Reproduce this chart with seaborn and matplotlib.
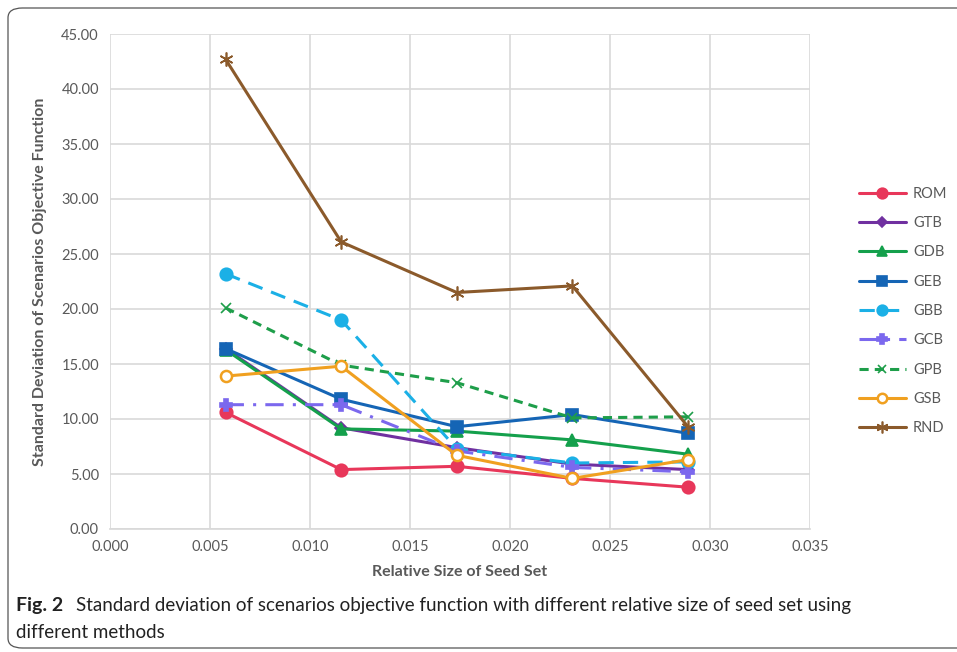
import matplotlib
matplotlib.use("Agg")
import matplotlib.pyplot as plt
import seaborn as sns
import pandas as pd
from matplotlib.patches import FancyBboxPatch
from matplotlib.ticker import MultipleLocator, FormatStrFormatter

# relative size of seed set (x values)
seed_size = [0.00578, 0.01156, 0.01734, 0.02312, 0.0289]

# standard deviation of the scenarios objective function per method
rom = [10.6, 5.4, 5.7, 4.6, 3.8]
gtb = [16.4, 9.2, 7.4, 5.9, 5.4]
gdb = [16.3, 9.1, 8.9, 8.1, 6.8]
geb = [16.4, 11.8, 9.3, 10.4, 8.7]
gbb = [23.2, 19.0, 7.3, 6.0, 6.1]
gcb = [11.3, 11.3, 7.1, 5.6, 5.2]
gpb = [20.1, 14.9, 13.3, 10.1, 10.2]
gsb = [13.9, 14.8, 6.7, 4.6, 6.3]
rnd = [42.7, 26.1, 21.5, 22.1, 9.3]

methods = ["ROM", "GTB", "GDB", "GEB", "GBB", "GCB", "GPB", "GSB", "RND"]
values = [rom, gtb, gdb, geb, gbb, gcb, gpb, gsb, rnd]

rows = []
for name, vals in zip(methods, values):
    for x, v in zip(seed_size, vals):
        rows.append({"method": name, "size": x, "sd": v})
df = pd.DataFrame(rows)

# line style for each method: colour, marker, linestyle, marker size, filled
styles = {
    "ROM": ("#E8375A", "o", "-", 9, True),
    "GTB": ("#7030A0", "D", "-", 6, True),
    "GDB": ("#14A04C", "^", "-", 9, True),
    "GEB": ("#1565B5", "s", "-", 8, True),
    "GBB": ("#1BB0E6", "o", (0, (5, 3)), 9, True),
    "GCB": ("#7B68EE", "P", (0, (6, 3, 1, 3)), 9, True),
    "GPB": ("#1E9E4A", "x", (0, (3, 2)), 7, True),
    "GSB": ("#F0A020", "o", "-", 8, False),
    "RND": ("#8B5A2B", (6, 2, 0), "-", 10, True),
}

sns.set_theme(style="white")
plt.rcParams["font.family"] = ["Lato", "DejaVu Sans"]

fig = plt.figure(figsize=(9.57, 6.52), dpi=100)
ax = fig.add_axes([110 / 957, 1 - 529 / 652, 700 / 957, 495 / 652])

for name in methods:
    color, marker, ls, ms, filled = styles[name]
    sub = df[df["method"] == name]
    sns.lineplot(
        x="size", y="sd", data=sub, ax=ax,
        color=color, marker=marker, linestyle=ls, linewidth=2.2,
        markersize=ms, markeredgewidth=1.8 if not filled else 1.2,
        markerfacecolor=color if filled else "white",
        markeredgecolor=color, label=name,
    )

ax.set_xlim(0, 0.035)
ax.set_ylim(0, 45)
ax.xaxis.set_major_locator(MultipleLocator(0.005))
ax.yaxis.set_major_locator(MultipleLocator(5))
ax.xaxis.set_major_formatter(FormatStrFormatter("%.3f"))
ax.yaxis.set_major_formatter(FormatStrFormatter("%.2f"))
ax.grid(True, color="#D9D9D9", linewidth=1.2)
for side in ["top", "right", "left"]:
    ax.spines[side].set_visible(False)
ax.spines["bottom"].set_color("#D9D9D9")
ax.tick_params(axis="both", labelsize=10.5, colors="#595959", length=0, pad=8)

ax.set_xlabel("Relative Size of Seed Set", fontsize=11.5, fontweight="bold",
              color="#595959", labelpad=8)
ax.set_ylabel("Standard Deviation of Scenarios Objective Function", fontsize=11.5,
              fontweight="bold", color="#595959", labelpad=10)

ax.legend(
    loc="center left", bbox_to_anchor=(846 / 957, 1 - 311 / 652),
    bbox_transform=fig.transFigure, frameon=False, fontsize=10.5,
    labelspacing=1.05, handlelength=3.2, handletextpad=0.5,
    labelcolor="#595959", markerscale=0.85,
)

# caption
fig.text(16 / 957, 1 - 605 / 652, "Fig. 2", fontsize=14, fontweight="bold",
         color="#222222", va="center")
fig.text(76 / 957, 1 - 605 / 652,
         "Standard deviation of scenarios objective function with different relative size of seed set using",
         fontsize=13.5, color="#222222", va="center")
fig.text(16 / 957, 1 - 633 / 652, "different methods", fontsize=13.5,
         color="#222222", va="center")

# frame around the figure
frame = FancyBboxPatch((8 / 957, 4 / 652), 1.2, 1 - 12 / 652,
                       boxstyle="round,pad=0,rounding_size=0.015",
                       transform=fig.transFigure, fill=False,
                       edgecolor="#555555", linewidth=0.9)
fig.patches.append(frame)

plt.savefig("out.png", dpi=100)
